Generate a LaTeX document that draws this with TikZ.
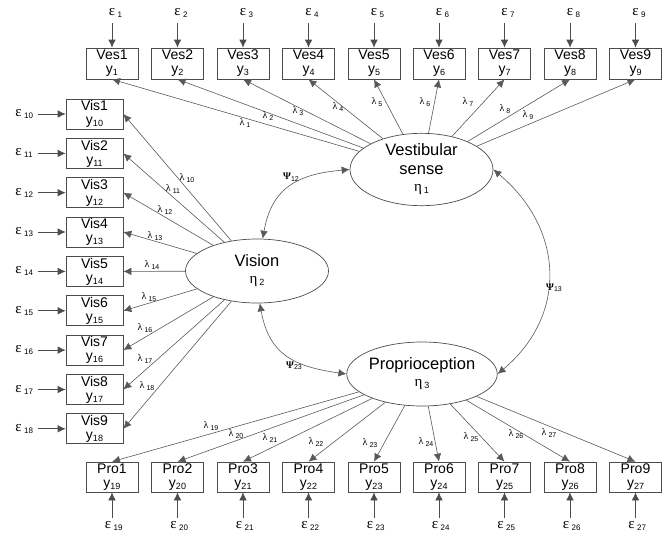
\documentclass[tikz,border=0pt]{standalone}
\usepackage{fontspec}
\setmainfont{Liberation Sans}
\newfontfamily\grkfont{Liberation Serif}
\usetikzlibrary{shapes.geometric,arrows.meta}
\newcommand\gEps[1]{{\grkfont\fontsize{15}{15}\selectfont ε}\rlap{\kern2.5pt\fontsize{8}{8}\selectfont\raisebox{-2pt}{#1}}}
\newcommand\gLam[1]{{\grkfont\fontsize{10}{10}\selectfont λ}\kern2pt{\fontsize{7}{7}\selectfont\raisebox{-1.5pt}{#1}}}
\newcommand\gPsi[1]{{\grkfont\bfseries\fontsize{10}{10}\selectfont Ψ}{\fontsize{7}{7}\selectfont\raisebox{-1.5pt}{#1}}}
\newcommand\gEta[1]{{\grkfont\fontsize{15}{15}\selectfont η}\kern2pt{\fontsize{9}{9}\selectfont\raisebox{-2pt}{#1}}}
\newcommand\yy[1]{y{\fontsize{9}{9}\selectfont\raisebox{-2pt}{#1}}}
\begin{document}
\begin{tikzpicture}[x=1pt,y=1pt,>={Latex[length=8pt,width=7.5pt]},
		obs/.style={draw=black!70, line width=0.7pt, minimum width=52pt, minimum height=31pt,
			inner sep=0pt, align=center, font=\fontsize{14}{14}\selectfont},
		lat/.style={ellipse, draw=black!70, line width=0.7pt, minimum width=143pt, minimum height=64pt,
			inner sep=0pt, align=center, font=\fontsize{16.5}{19}\selectfont},
		ld/.style={->, draw=black!65, line width=0.6pt},
		covar/.style={<->, draw=black!65, line width=0.6pt, looseness=1.2}]
	\useasboundingbox (0,0) rectangle (669,-536);
	% latent variables
	\node[lat] (vest) at (421.5,-169.5) {Vestibular\\sense\\[-2pt]\gEta{1}};
	\node[lat] (vis) at (257,-271) {Vision\\[-2pt]\gEta{2}};
	\node[lat] (pro) at (422,-374) {Proprioception\\[-2pt]\gEta{3}};
	% vestibular indicators
	\foreach \i/\x/\lx/\ly in {1/112/245/123, 2/177.5/268/116, 3/243/298/111,
			4/308.5/338/107, 5/374/377/102, 6/439/425/102, 7/504.5/468/102,
			8/570/505/109, 9/635.5/528/115}{
		\node[obs] (ves\i) at (\x,-63.5) {Ves\i\\\yy{\i}};
		\node (ev\i) at (\x,-13) {\gEps{\i}};
		\coordinate (sv\i) at (\x,-23);
		\draw[->, black!70, line width=0.7pt] (sv\i) -- (ves\i);
		\draw[ld] (vest) -- (ves\i.south);
		\node at (\lx,-\ly) {\gLam{\i}};
	}
	% vision indicators
	\foreach \j/\i/\y/\lx/\ly in {1/10/114/187/178, 2/11/153.4/173/189, 3/12/192.7/165/210,
			4/13/232/155/236, 5/14/271.4/152/265, 6/15/310.8/149/297,
			7/16/350.1/145/328, 8/17/389.5/145/359, 9/18/428.8/147/386}{
		\node[obs, minimum width=57pt, minimum height=30pt] (vis\j) at (94.5,-\y) {Vis\j\\\yy{\i}};
		\node (el\i) at (18.5,-\y) {\gEps{\i}};
		\coordinate (sl\i) at (38,-\y);
		\draw[->, black!70, line width=0.7pt] (sl\i) -- (vis\j);
		\draw[ld] (vis) -- (vis\j.east);
		\node at (\lx,-\ly) {\gLam{\i}};
	}
	% proprioception indicators
	\foreach \j/\i/\x/\lx/\ly in {1/19/112/211/426, 2/20/177.5/236/434, 3/21/243/270/438,
			4/22/308.5/316/442, 5/23/374/370/443, 6/24/439/426/442, 7/25/504.5/471/437,
			8/26/570/516/434, 9/27/635.5/549/433}{
		\node[obs, minimum height=30pt] (pro\j) at (\x,-477) {Pro\j\\\yy{\i}};
		\node (eb\i) at (\x-4,-526) {\gEps{\i}};
		\coordinate (sb\i) at (\x,-518);
		\draw[->, black!70, line width=0.7pt] (sb\i) -- (pro\j);
		\draw[ld] (pro) -- (pro\j.north);
		\node at (\lx,-\ly) {\gLam{\i}};
	}
	% covariances
	\draw[covar] (vis.80) to[out=80, in=185] (vest.west);
	\draw[covar] (vis.-85) to[out=-80, in=172] (pro.west);
	\draw[covar, looseness=1.15] (vest.east) to[out=-40, in=40] (pro.east);
	\node at (291,-177) {\gPsi{12}};
	\node at (554,-288) {\gPsi{13}};
	\node at (294,-366) {\gPsi{23}};
\end{tikzpicture}
\end{document}
